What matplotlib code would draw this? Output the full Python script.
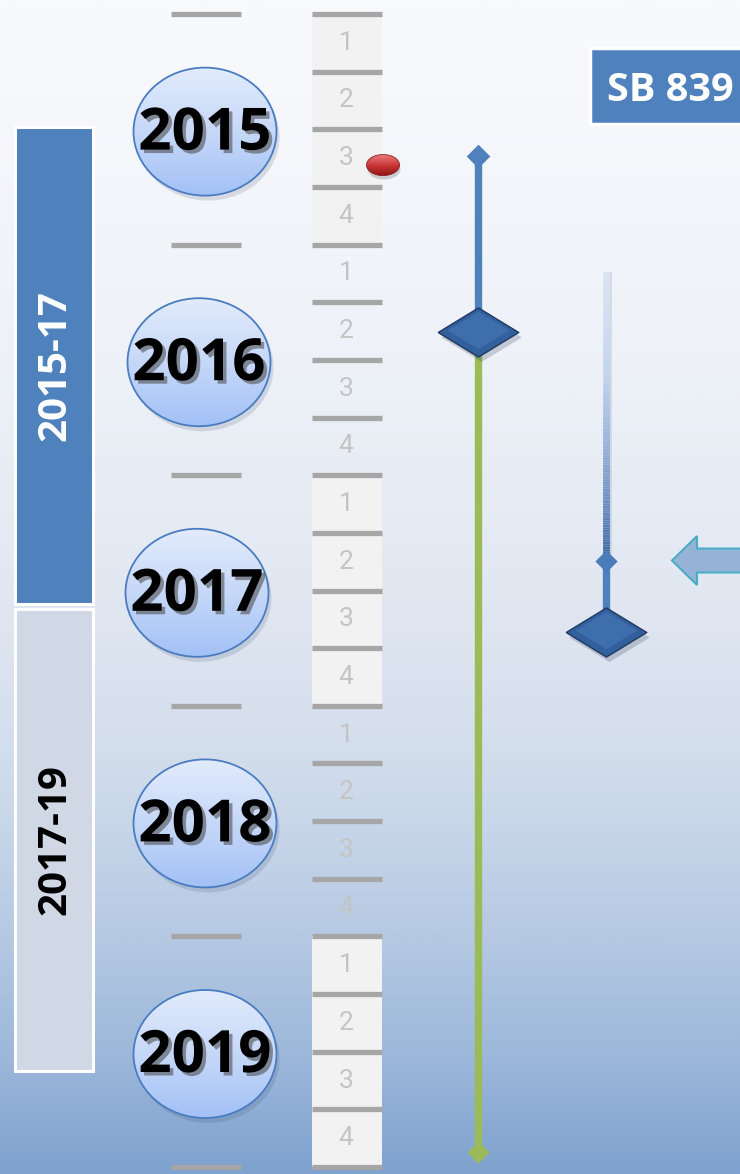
import numpy as np
import matplotlib
matplotlib.use("Agg")
import matplotlib.pyplot as plt
from matplotlib.patches import Ellipse, Rectangle, FancyArrow
from matplotlib.colors import LinearSegmentedColormap
from matplotlib.collections import LineCollection
import matplotlib.patheffects as pe

plt.rcParams['font.family'] = ['Open Sans', 'DejaVu Sans']

# ---- data ----
YEARS = [2015, 2016, 2017, 2018, 2019]
QUARTERS = [1, 2, 3, 4]
SHADED_YEARS = [2015, 2017, 2019]

PERIOD_LABELS = ['2015-17', '2017-19']
PERIOD_START = [2015.49, 2017.58]
PERIOD_END = [2017.558, 2019.583]

BILL_LABEL = 'SB 839'

# track 1: blue lead-in, milestone, green run to the end
TRACK1_START = 2015.616
TRACK1_MILESTONE = 2016.38
TRACK1_END = 2019.935

# track 2: fading lead-in, checkpoint, milestone
TRACK2_START = 2016.12
TRACK2_CHECKPOINT = 2017.37
TRACK2_MILESTONE = 2017.68

RED_MARK_DATE = 2015.655
ARROW_DATE = 2017.37

# ---- layout (x in pixels, y in years) ----
PX_PER_YEAR = 230.6
Y_TOP = 2015 - 14 / PX_PER_YEAR
Y_BOT = 2015 + 1160 / PX_PER_YEAR
BADGE_X = [205, 199, 197, 205, 205]
X_TRACK1 = 478
X_TRACK2 = 606
X_QCOL = 347
X_YTICK = (171, 241)
X_BAND = 54


def py(px):
    # pixel length -> year length
    return px / PX_PER_YEAR


def gradient_ellipse(ax, cx, cy, w, h, colors, edge, z, lw=1.3):
    e = Ellipse((cx, cy), w, h, facecolor='none', edgecolor=edge, lw=lw, zorder=z + 1)
    ax.add_patch(e)
    cmap = LinearSegmentedColormap.from_list('g', colors)
    im = ax.imshow(np.linspace(0, 1, 200).reshape(-1, 1), cmap=cmap,
                   extent=(cx - w / 2, cx + w / 2, cy + h / 2, cy - h / 2),
                   aspect='auto', zorder=z, interpolation='bilinear')
    im.set_clip_path(e)


fig = plt.figure(figsize=(7.4, 11.74), dpi=100)
ax = fig.add_axes([0, 0, 1, 1])
ax.axis('off')

# background
bg = LinearSegmentedColormap.from_list('bg', [
    (0.0, '#f9fafd'), (0.3, '#eef2f8'), (0.5, '#e2e8f2'), (0.65, '#d2ddec'),
    (0.8, '#b5c9e3'), (0.9, '#9db8db'), (1.0, '#7fa2cf')])
ax.imshow(np.linspace(0, 1, 400).reshape(-1, 1), cmap=bg,
          extent=(0, 740, Y_BOT, Y_TOP), aspect='auto', zorder=0)

# period bands on the left
band_colors = ['#4f81bd', '#d0d8e6']
band_text = ['white', 'black']
for lab, s, e, fc, tc in zip(PERIOD_LABELS, PERIOD_START, PERIOD_END, band_colors, band_text):
    ax.bar(X_BAND, e - s, bottom=s, width=78, color=fc, edgecolor='white', lw=2.2, zorder=2)
    ax.text(X_BAND + 1, (s + e) / 2, lab, rotation=90, ha='center', va='center',
            fontsize=29, fontweight='bold', color=tc, zorder=3)

# quarter column
ax.bar([X_QCOL] * len(SHADED_YEARS), [1] * len(SHADED_YEARS), bottom=SHADED_YEARS,
       width=70, color='#f2f2f2', zorder=1)
q_lines = [y + q / 4 for y in YEARS for q in range(4)] + [YEARS[-1] + 1]
ax.hlines(q_lines, X_QCOL - 35, X_QCOL + 35, color='#a6a6a6', lw=3.8, zorder=2)
for y in YEARS:
    for q in QUARTERS:
        ax.text(X_QCOL - 1, y + (q - 0.5) / 4, str(q), ha='center', va='center',
                fontsize=19, color='#c4c4c4',
                family=['Liberation Sans Narrow', 'Roboto', 'DejaVu Sans'], zorder=3)

# year ticks
ax.hlines(YEARS + [YEARS[-1] + 1], X_YTICK[0], X_YTICK[1], color='#a6a6a6', lw=3.8, zorder=2)

# year badges
for y, bx in zip(YEARS, BADGE_X):
    cy = y + 0.51
    ax.add_patch(Ellipse((bx + 3, cy + py(5)), 143, py(128), facecolor='#3a4a66',
                         alpha=0.16, lw=0, zorder=3))
    gradient_ellipse(ax, bx, cy, 143, py(128), ['#e2ebfc', '#c6d8f8', '#a3c1f6'],
                     '#4a7cc0', 4)
    ax.text(bx, cy + py(3), str(y), ha='center', va='center', fontsize=42,
            fontweight='bold', color='black', zorder=6,
            path_effects=[pe.withSimplePatchShadow(offset=(2.5, -2.5),
                                                   shadow_rgbFace='#444444', alpha=0.55)])

# red marker
ax.add_patch(Ellipse((383 + 1, RED_MARK_DATE + py(4)), 33, py(21), facecolor='#555555',
                     alpha=0.25, lw=0, zorder=6))
gradient_ellipse(ax, 383, RED_MARK_DATE, 33, py(21), ['#e87a7a', '#c93636', '#8e1414'],
                 '#8a1a1a', 7, lw=0.6)

# SB label box (runs off the right edge)
ax.add_patch(Rectangle((590, 2015 + py(34)), 200, py(76), facecolor='#4f81bd',
                       edgecolor='white', lw=2.5, zorder=3))
ax.text(607, 2015 + py(72), BILL_LABEL, ha='left', va='center_baseline', fontsize=28.5,
        fontweight='bold', color='white', zorder=4)

# diamond shapes
small_d = [(-1, 0), (0, 1), (1, 0), (0, -1), (-1, 0)]
big_d = [(-1, 0), (0, 0.61), (1, 0), (0, -0.61), (-1, 0)]


def big_diamond(x, y):
    ax.plot(x + 3, y + py(5), marker=big_d, ms=58, color='#2a3a55', alpha=0.22,
            mec='none', zorder=8)
    ax.plot(x, y, marker=big_d, ms=58, color='#33609c', mec='#1e3a63', mew=1.0, zorder=9)
    ax.plot(x, y - py(2), marker=big_d, ms=44, color='#3f6eac', mec='none', zorder=10)


# track 1
ax.plot([X_TRACK1, X_TRACK1], [TRACK1_START, TRACK1_MILESTONE], color='#4f81bd',
        lw=5.3, zorder=7, solid_capstyle='butt')
ax.plot([X_TRACK1, X_TRACK1], [TRACK1_MILESTONE, TRACK1_END], color='#9bbb59',
        lw=5.3, zorder=7, solid_capstyle='butt')
ax.plot(X_TRACK1, TRACK1_START, marker=small_d, ms=17, color='#4f81bd', mec='none', zorder=8)
ax.plot(X_TRACK1, TRACK1_END, marker=small_d, ms=16, color='#9bbb59', mec='none', zorder=8)
big_diamond(X_TRACK1, TRACK1_MILESTONE)

# track 2 (fading lead-in)
n = 120
ys = np.linspace(TRACK2_START, TRACK2_CHECKPOINT, n + 1)
segs = [[(X_TRACK2, ys[i]), (X_TRACK2, ys[i + 1])] for i in range(n)]
fade = LinearSegmentedColormap.from_list(
    'fade', [(0, '#dde5f4'), (0.35, '#c4d4ee'), (0.65, '#8eaad4'), (0.85, '#5f84bb'),
             (1, '#3d669f')])
ax.plot([X_TRACK2 + 1.5, X_TRACK2 + 1.5], [TRACK2_START, TRACK2_CHECKPOINT],
        color='#8090a8', alpha=0.25, lw=5.5, zorder=6, solid_capstyle='butt')
lc = LineCollection(segs, colors=fade(np.linspace(0, 1, n)), linewidths=5,
                    capstyle='butt', zorder=7)
ax.add_collection(lc)
ax.plot([X_TRACK2, X_TRACK2], [TRACK2_CHECKPOINT, TRACK2_MILESTONE], color='#4f81bd',
        lw=5.3, zorder=7, solid_capstyle='butt')
ax.plot(X_TRACK2, TRACK2_CHECKPOINT, marker=small_d, ms=16, color='#4a7cb9', mec='none',
        zorder=8)
big_diamond(X_TRACK2, TRACK2_MILESTONE)

# arrow pointing at the checkpoint
ax.add_patch(FancyArrow(770, ARROW_DATE, -98, 0, width=py(24), head_width=py(49),
                        head_length=25, length_includes_head=True, facecolor='#95b3d7',
                        edgecolor='#4bacc6', lw=1.5, zorder=6))

ax.set_xlim(0, 740)
ax.set_ylim(Y_BOT, Y_TOP)
fig.savefig('out.png', dpi=100)
